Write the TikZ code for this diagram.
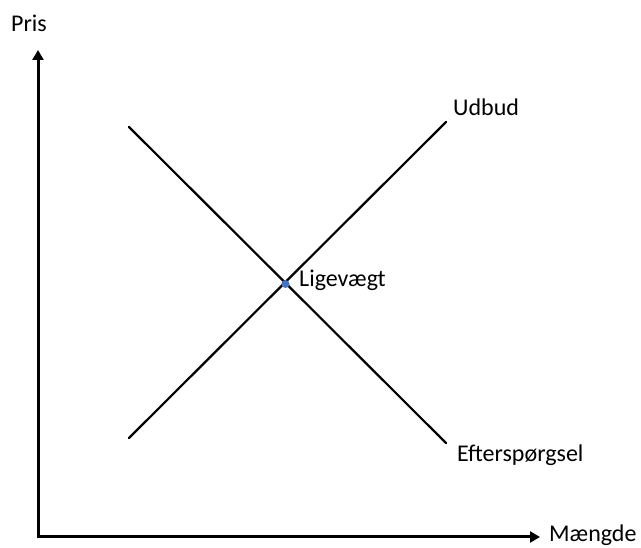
\documentclass[tikz,border=0pt]{standalone}
\usepackage{fontspec}
\setmainfont{Carlito}
\usetikzlibrary{arrows.meta}
\definecolor{dotblue}{HTML}{4472C4}
\tikzset{
  axis/.style={line width=3pt,-{Triangle[length=10pt,width=11pt]}},
  curve/.style={line width=2.2pt,line cap=round},
  lbl/.style={anchor=base west,inner sep=0pt,font=\fontsize{24}{28}\selectfont},
}
\begin{document}
\begin{tikzpicture}[x=1pt,y=-1pt]
\useasboundingbox (0,0) rectangle (641,548);
\coordinate (O) at (38,537);
\coordinate (ytop) at (38,50);
\coordinate (xend) at (540,537);
\coordinate (d1) at (129,127);
\coordinate (d2) at (446,443);
\coordinate (s1) at (129,438);
\coordinate (s2) at (446,122);
\draw[axis] ([yshift=1.5pt]O) -- (ytop);
\draw[axis] ([xshift=-1.5pt]O) -- (xend);
\draw[curve] (d1) -- (d2);
\draw[curve] (s1) -- (s2);
\node[circle,fill=dotblue,inner sep=0pt,minimum size=8pt] (eq) at (285.5,284) {};
\node[lbl] (pris) at (11,32) {Pris};
\node[lbl] (maengde) at (549,541) {Mængde};
\node[lbl] (udbud) at (453,116) {Udbud};
\node[lbl] (lige) at (299,287) {Ligevægt};
\node[lbl] (eft) at (457,462) {Efterspørgsel};
\end{tikzpicture}
\end{document}
